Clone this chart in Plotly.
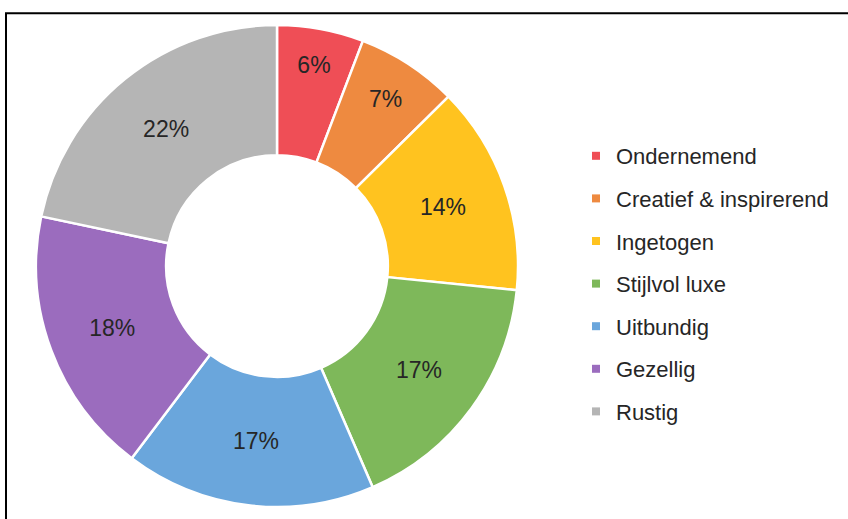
import plotly.graph_objects as go

categories = ["Ondernemend", "Creatief & inspirerend", "Ingetogen", "Stijlvol luxe",
              "Uitbundig", "Gezellig", "Rustig"]
values = [5.8, 6.8, 14.0, 16.9, 16.8, 18.0, 21.7]
colors = ["#EF4E56", "#EE8A40", "#FFC31F", "#7EB85A", "#6AA6DC", "#9B6CBE", "#B5B5B5"]

W, H = 848, 519
FONT = "Liberation Sans, Arial, sans-serif"

fig = go.Figure()
fig.add_trace(go.Pie(
    labels=categories,
    values=values,
    hole=0.46,
    sort=False,
    direction="clockwise",
    rotation=0,
    marker=dict(colors=colors, line=dict(color="white", width=2.5)),
    texttemplate="%{percent:.0%}",
    textposition="inside",
    insidetextorientation="horizontal",
    textfont=dict(family=FONT, size=23, color="#262626"),
    showlegend=False,
    domain=dict(x=[36 / W, 518 / W], y=[(H - 507) / H, (H - 25) / H]),
))

# legend entries (one group per category so they can be spaced like the original)
for cat, col in zip(categories, colors):
    fig.add_trace(go.Scatter(
        x=[None], y=[None], mode="markers", name=cat, legendgroup=cat,
        marker=dict(symbol="square", size=8, color=col),
        hoverinfo="skip",
    ))

fig.update_layout(
    width=W, height=H,
    margin=dict(l=0, r=0, t=0, b=0),
    paper_bgcolor="white", plot_bgcolor="white",
    xaxis=dict(visible=False), yaxis=dict(visible=False),
    legend=dict(
        x=576 / W, xanchor="left", y=1 - 135 / H, yanchor="top",
        font=dict(family=FONT, size=22, color="#262626"),
        tracegroupgap=11, itemwidth=30, bgcolor="rgba(0,0,0,0)",
    ),
    shapes=[dict(type="rect", xref="paper", yref="paper",
                 x0=6 / W, x1=1.05, y0=-0.05, y1=1 - 13.3 / H,
                 line=dict(color="black", width=2), fillcolor="rgba(0,0,0,0)")],
)

fig.write_html("out.html",
               config={"displayModeBar": False},
               post_script="document.body.style.margin='0';document.body.style.overflow='hidden';")
